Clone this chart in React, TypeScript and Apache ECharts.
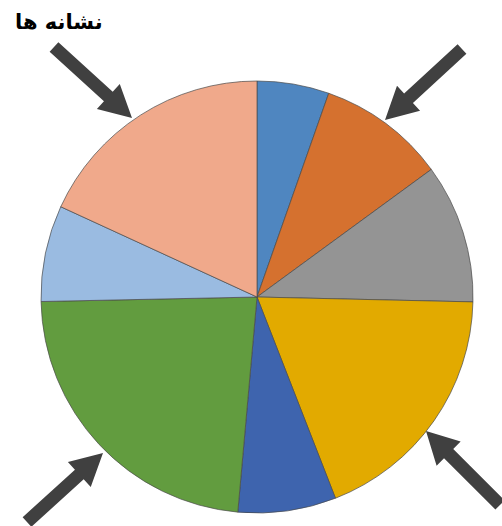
import React, { useEffect, useRef } from "react";
import * as echarts from "echarts";

const categories = ["A", "B", "C", "D", "E", "F", "G", "H"];
const values = [19.4, 34.4, 37.5, 67.4, 26.4, 83.7, 25.9, 65.3];
const colors = ["#4f86c0", "#d5712f", "#949494", "#e2aa00", "#3e64ae", "#629c3f", "#9abbe1", "#f0a98b"];
const titleText = "نشانه ها";

function arrow(tail: number[], tip: number[]) {
  const dx = tip[0] - tail[0];
  const dy = tip[1] - tail[1];
  const len = Math.sqrt(dx * dx + dy * dy);
  const ux = dx / len, uy = dy / len;
  const px = -uy, py = ux;
  const sw = 6.5, hw = 17, hl = 32;
  const bx = tip[0] - ux * hl, by = tip[1] - uy * hl;
  const pts = [
    [tail[0] + px * sw, tail[1] + py * sw],
    [bx + px * sw, by + py * sw],
    [bx + px * hw, by + py * hw],
    [tip[0], tip[1]],
    [bx - px * hw, by - py * hw],
    [bx - px * sw, by - py * sw],
    [tail[0] - px * sw, tail[1] - py * sw],
  ];
  return { type: "polygon", shape: { points: pts }, style: { fill: "#404040" }, z: 10 };
}

export default function App() {
  const ref = useRef<HTMLDivElement>(null);
  useEffect(() => {
    const chart = echarts.init(ref.current!, null, { renderer: "svg" });
    chart.setOption({
      animation: false,
      backgroundColor: "#ffffff",
      graphic: [
        {
          type: "text",
          left: 15,
          top: 11,
          style: { text: titleText, font: "bold 21px 'DejaVu Sans'", fill: "#000000" },
        },
        arrow([54, 47], [132, 118]),
        arrow([462, 49], [385, 120]),
        arrow([27, 522], [103, 453]),
        arrow([500, 505], [426, 431]),
      ],
      series: [
        {
          type: "pie",
          center: [257, 297],
          radius: 216,
          startAngle: 90,
          clockwise: true,
          label: { show: false },
          labelLine: { show: false },
          silent: true,
          itemStyle: { borderColor: "#4a4a4a", borderWidth: 0.7 },
          data: categories.map((c, i) => ({ name: c, value: values[i], itemStyle: { color: colors[i] } })),
        },
      ],
    });
    return () => chart.dispose();
  }, []);
  return <div ref={ref} style={{ position: "absolute", left: 0, top: 0, width: 502, height: 526 }} />;
}
